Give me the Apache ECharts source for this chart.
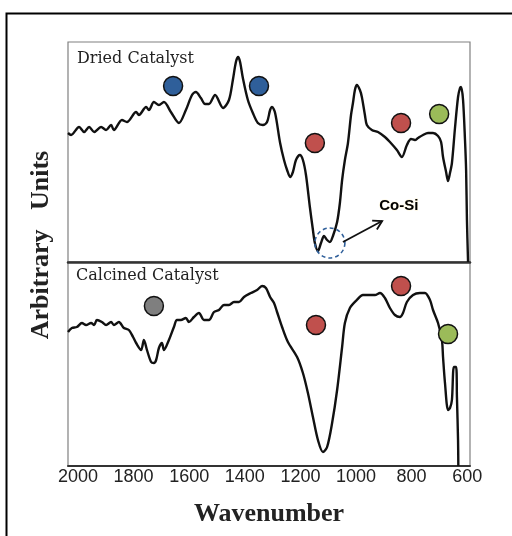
<!DOCTYPE html>
<html>
<head>
<meta charset="utf-8">
<script src="https://cdn.jsdelivr.net/npm/echarts@6/dist/echarts.min.js"></script>
<style>
html,body{margin:0;padding:0;background:#fff;}
#chart{width:512px;height:536px;}
</style>
</head>
<body>
<div id="chart"></div>
<script>
// ---- data (wavenumber, arbitrary units) ----
const xTickLabels = [2000, 1800, 1600, 1400, 1200, 1000, 800, 600];
const panelNames = ['Dried Catalyst', 'Calcined Catalyst'];
const xAxisName = 'Wavenumber';
const yAxisName = 'Arbitrary   Units';
const coSiText = 'Co-Si';

const driedW = [2036,2025,1996,1978,1960,1942,1917,1899,1881,1871,1842,1824,1791,1781,1755,1745,1727,1709,1691,1666,1637,1612,1590,1576,1558,1543,1529,1507,1478,1457,1443,1432,1424,1417,1407,1389,1371,1353,1335,1320,1309,1302,1291,1273,1259,1248,1237,1227,1216,1202,1191,1180,1166,1155,1148,1137,1126,1115,1104,1094,1083,1068,1058,1050,1040,1029,1018,1011,1004,997,986,979,968,961,943,921,896,878,853,835,817,802,788,777,759,741,723,705,694,687,676,669,662,655,644,633,626,622,615,608,604,601,597];
const driedV = [129,127,135,130,135,130,135,132,137,132,142,140,150,147,155,152,160,157,160,150,139,152,167,170,164,158,158,167,154,162,182,200,205,200,184,162,149,139,137,140,152,155,149,119,102,92,85,90,102,107,102,87,55,32,19,11,19,26,22,20,26,40,59,82,102,119,147,159,172,177,172,165,147,137,132,130,125,120,112,105,117,123,122,124,127,129,129,126,120,105,90,81,89,99,134,165,174,175,162,122,92,42,0];

const calcW = [2036,2022,2004,1986,1971,1953,1942,1932,1914,1899,1881,1871,1853,1835,1817,1802,1791,1773,1763,1752,1737,1727,1719,1709,1698,1691,1673,1655,1644,1630,1612,1601,1583,1565,1547,1529,1511,1493,1475,1457,1439,1421,1403,1378,1356,1338,1324,1309,1295,1284,1266,1245,1212,1191,1173,1155,1137,1119,1104,1086,1068,1050,1040,1022,997,975,950,932,914,896,878,860,842,831,817,795,770,752,734,723,705,691,687,680,669,662,655,648,640,637,633,632];
const calcV = [134,138,139,143,141,143,141,146,144,141,144,141,144,138,136,129,123,116,126,116,104,103,106,118,123,116,126,139,146,146,148,144,149,153,146,146,154,156,161,161,164,164,169,173,176,180,178,169,163,154,139,124,109,93,73,49,26,14,19,43,76,119,143,158,166,171,171,171,173,168,158,151,149,153,164,171,173,173,166,156,143,126,109,83,56,58,66,99,99,69,26,0];

// band markers (wavenumber, height)
const driedBlue = [[1658,176],[1349,176]];
const driedRed = [[1148,119],[838,139]];
const driedGreen = [[701,148]];
const calcGray = [[1727,160]];
const calcRed = [[1144,141],[838,180]];
const calcGreen = [[669,132]];

// Co-Si annotation anchors (data space of the dried panel)
const coSiCircle = [1094, 19];
const coSiArrow = [[1047, 20], [906, 41]];
const coSiLabelAt = [846, 56];

const zip = (a, b) => a.map((v, i) => [v, b[i]]);

const chart = echarts.init(document.getElementById('chart'), null, {renderer: 'canvas'});

const xCommon = {
  type: 'value', min: 590, max: 2036, inverse: true,
  splitLine: {show: false}, axisTick: {show: false}
};
const yCommon = {
  type: 'value', min: 0,
  axisLine: {show: false}, axisTick: {show: false}, axisLabel: {show: false}, splitLine: {show: false}
};

const markerStyle = (color) => ({
  color: color, borderColor: '#111', borderWidth: 1.5, opacity: 1
});

const option = {
  animation: false,
  backgroundColor: '#fff',
  grid: [
    {left: 68, top: 42, width: 402, height: 220, show: true, borderColor: '#808080', borderWidth: 1.2, backgroundColor: 'transparent'},
    {left: 68, top: 262, width: 402, height: 204, show: true, borderColor: '#808080', borderWidth: 1.2, backgroundColor: 'transparent'}
  ],
  xAxis: [
    Object.assign({}, xCommon, {gridIndex: 0, axisLabel: {show: false},
      axisLine: {show: true, lineStyle: {color: '#333', width: 2.5}}}),
    Object.assign({}, xCommon, {gridIndex: 1,
      axisLine: {show: true, lineStyle: {color: '#333', width: 2}},
      axisLabel: {show: true, customValues: xTickLabels, margin: 2,
        formatter: (v) => String(v),
        fontFamily: 'Liberation Sans', fontSize: 18, color: '#222'},
      name: xAxisName, nameLocation: 'middle', nameGap: 35,
      nameTextStyle: {fontFamily: 'Liberation Serif', fontWeight: 'bold', fontSize: 26, color: '#222'}
    })
  ],
  yAxis: [
    Object.assign({}, yCommon, {gridIndex: 0, max: 220}),
    Object.assign({}, yCommon, {gridIndex: 1, max: 204})
  ],
  graphic: [
    {type: 'rect', left: 4, top: 11, z: 100, silent: true,
      shape: {x: 0, y: 0, width: 560, height: 580},
      style: {fill: 'none', stroke: '#000', lineWidth: 2}},
    {type: 'text', left: 77, top: 51, z: 100,
      style: {text: panelNames[0], font: '16px "DejaVu Serif"', fill: '#222'}},
    {type: 'text', left: 76, top: 268, z: 100,
      style: {text: panelNames[1], font: '16px "DejaVu Serif"', fill: '#222'}},
    {type: 'text', x: 41, y: 245, rotation: Math.PI / 2, z: 100,
      style: {text: yAxisName, font: 'bold 26px "Liberation Serif"', fill: '#222',
        textAlign: 'center', textVerticalAlign: 'middle', align: 'center', verticalAlign: 'middle'}}
  ],
  series: [
    {type: 'line', xAxisIndex: 0, yAxisIndex: 0, data: zip(driedW, driedV),
      showSymbol: false, smooth: 0.3, lineStyle: {color: '#111', width: 2.4}, z: 3},
    {type: 'line', xAxisIndex: 1, yAxisIndex: 1, data: zip(calcW, calcV),
      showSymbol: false, smooth: 0.3, lineStyle: {color: '#111', width: 2.4}, z: 3},
    {type: 'scatter', xAxisIndex: 0, yAxisIndex: 0, data: driedBlue, symbolSize: 19, itemStyle: markerStyle('#2f5f9a'), z: 5},
    {type: 'scatter', xAxisIndex: 0, yAxisIndex: 0, data: driedRed, symbolSize: 19, itemStyle: markerStyle('#c0504d'), z: 5},
    {type: 'scatter', xAxisIndex: 0, yAxisIndex: 0, data: driedGreen, symbolSize: 19, itemStyle: markerStyle('#9bbb59'), z: 5},
    {type: 'scatter', xAxisIndex: 1, yAxisIndex: 1, data: calcGray, symbolSize: 19, itemStyle: markerStyle('#7f7f7f'), z: 5},
    {type: 'scatter', xAxisIndex: 1, yAxisIndex: 1, data: calcRed, symbolSize: 19, itemStyle: markerStyle('#c0504d'), z: 5},
    {type: 'scatter', xAxisIndex: 1, yAxisIndex: 1, data: calcGreen, symbolSize: 19, itemStyle: markerStyle('#9bbb59'), z: 5},
    {type: 'custom', xAxisIndex: 0, yAxisIndex: 0, data: [coSiCircle], z: 6, clip: false,
      renderItem: function (params, api) {
        const c = api.coord(coSiCircle);
        const p1 = api.coord(coSiArrow[0]);
        const p2 = api.coord(coSiArrow[1]);
        const t = api.coord(coSiLabelAt);
        const ang = Math.atan2(p2[1] - p1[1], p2[0] - p1[0]);
        const hl = 10, ha = Math.PI / 6;
        const h1 = [p2[0] - hl * Math.cos(ang - ha), p2[1] - hl * Math.sin(ang - ha)];
        const h2 = [p2[0] - hl * Math.cos(ang + ha), p2[1] - hl * Math.sin(ang + ha)];
        return {type: 'group', children: [
          {type: 'circle', shape: {cx: c[0], cy: c[1], r: 15},
            style: {fill: 'none', stroke: '#2f5f9a', lineWidth: 1.6, lineDash: [4, 3]}},
          {type: 'line', shape: {x1: p1[0], y1: p1[1], x2: p2[0], y2: p2[1]},
            style: {stroke: '#111', lineWidth: 1.8}},
          {type: 'polyline', shape: {points: [h1, p2, h2]},
            style: {fill: 'none', stroke: '#111', lineWidth: 1.8}},
          {type: 'text', x: t[0], y: t[1],
            style: {text: coSiText, font: 'bold 15px "Liberation Sans"', fill: '#000',
              align: 'center', verticalAlign: 'middle', textAlign: 'center', textVerticalAlign: 'middle',
              stroke: 'rgba(255,230,150,0.35)', lineWidth: 1}}
        ]};
      }}
  ]
};
chart.setOption(option);
</script>
</body>
</html>
